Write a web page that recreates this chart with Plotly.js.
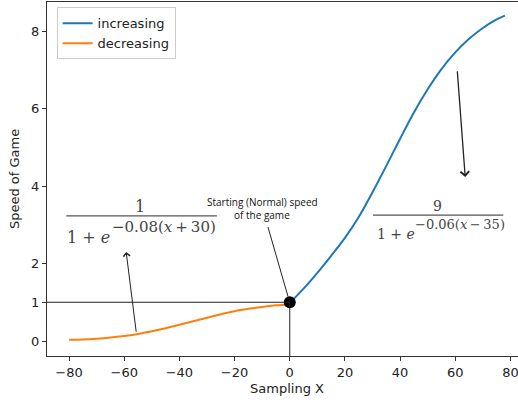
<!DOCTYPE html>
<html><head><meta charset="utf-8">
<script src="https://cdn.plot.ly/plotly-3.0.1.min.js"></script>
<style>html,body{margin:0;padding:0;overflow:hidden;background:#fff;width:518px;height:402px}#chart{width:530px;height:402px}</style>
</head><body><div id="chart"></div>
<script>
// Increasing series (x >= 0)
const incX = [0, 5, 10, 15, 20, 25, 30, 35, 40, 45, 50, 55, 60, 65, 70, 75, 78];
const incY = [0.98, 1.35, 1.76, 2.2, 2.66, 3.2, 3.84, 4.52, 5.22, 5.9, 6.5, 7.02, 7.45, 7.8, 8.08, 8.3, 8.4];
// Decreasing series (x <= 0)
const decX = [-80, -75, -70, -65, -60, -55, -50, -45, -40, -35, -30, -25, -20, -15, -10, -5, 0];
const decY = [0.03, 0.04, 0.06, 0.09, 0.13, 0.18, 0.25, 0.33, 0.42, 0.51, 0.60, 0.69, 0.77, 0.83, 0.88, 0.92, 0.95];
// Starting point
const startX = [0];
const startY = [1];
const xTicks = [-80, -60, -40, -20, 0, 20, 40, 60, 80];
const yTicks = [0, 1, 2, 4, 6, 8];

const traces = [
  {x: incX, y: incY, mode: 'lines', name: 'increasing', line: {color: '#1f77b4', width: 2, shape: 'spline', smoothing: 1}},
  {x: decX, y: decY, mode: 'lines', name: 'decreasing', line: {color: '#ff7f0e', width: 2, shape: 'spline', smoothing: 1}},
  {x: startX, y: startY, mode: 'markers', showlegend: false, marker: {color: '#000', size: 12}}
];

const serifL = {family: 'DejaVu Serif, serif', size: 16, color: '#444'};
const serifLs = {family: 'DejaVu Serif, serif', size: 15, color: '#444'};
const serifR = {family: 'DejaVu Serif, serif', size: 14, color: '#444'};
const serifRs = {family: 'DejaVu Serif, serif', size: 13, color: '#444'};
const small = {family: 'Open Sans, sans-serif', size: 10, color: '#111'};
const layout = {
  width: 530, height: 402,
  margin: {l: 47, r: 3, t: 2, b: 46},
  paper_bgcolor: '#fff', plot_bgcolor: '#fff',
  font: {family: 'DejaVu Sans, sans-serif', size: 13, color: '#222'},
  xaxis: {range: [-88, 86], tickvals: xTicks, ticktext: xTicks.map(v => v < 0 ? '\u2212' + (-v) : String(v)),
    showgrid: false, zeroline: false, showline: true, mirror: true, linecolor: '#333', linewidth: 1.2,
    ticks: 'outside', ticklen: 4, tickcolor: '#333',
    title: {text: 'Sampling X', font: {size: 13}, standoff: 5}},
  yaxis: {range: [-0.387, 8.75], tickvals: yTicks,
    showgrid: false, zeroline: false, showline: true, mirror: true, linecolor: '#333', linewidth: 1.2,
    ticks: 'outside', ticklen: 4, tickcolor: '#333',
    title: {text: 'Speed of Game', font: {size: 13}, standoff: 8}},
  legend: {x: 0.02, y: 0.985, xanchor: 'left', yanchor: 'top', bgcolor: 'rgba(255,255,255,0.8)',
    bordercolor: '#ccc', borderwidth: 1, font: {size: 13}},
  shapes: [
    {type: 'line', xref: 'x', x0: -88, x1: 0, yref: 'y', y0: 1, y1: 1, line: {color: '#222', width: 1}},
    {type: 'line', xref: 'x', x0: 0, x1: 0, yref: 'y', y0: -0.387, y1: 1, line: {color: '#222', width: 1}},
    {type: 'line', x0: -81.0, x1: -26.4, y0: 3.23, y1: 3.23, line: {color: '#555', width: 1.2}},
    {type: 'line', x0: 30.2, x1: 77.4, y0: 3.25, y1: 3.25, line: {color: '#555', width: 1.2}},
    {type: 'line', x0: -7.9, x1: -0.6, y0: 2.94, y1: 1.14, line: {color: '#222', width: 1}}
  ],
  annotations: [
    {x: -54.3, y: 3.48, text: '1', showarrow: false, font: serifL},
    {x: -81.4, y: 2.68, xanchor: 'left', text: '1 + <i>e</i>', showarrow: false, font: serifL},
    {x: -65.2, y: 2.95, xanchor: 'left', text: '\u22120.08(<i>x</i>\u2009+\u200930)', showarrow: false, font: serifLs},
    {x: 53.5, y: 3.48, text: '9', showarrow: false, font: serifR},
    {x: 30.8, y: 2.75, xanchor: 'left', text: '1 + <i>e</i>', showarrow: false, font: serifR},
    {x: 44.6, y: 3.0, xanchor: 'left', text: '\u22120.06(<i>x</i>\u2009\u2212\u200935)', showarrow: false, font: serifRs},
    {x: -10.0, y: 3.6, text: 'Starting (Normal) speed', showarrow: false, font: small},
    {x: -10.0, y: 3.25, text: 'of the game', showarrow: false, font: small},
    {x: -59.3, y: 2.3, ax: -55.6, ay: 0.2, axref: 'x', ayref: 'y', xref: 'x', yref: 'y', text: '', showarrow: true,
      arrowhead: 4, arrowsize: 1.3, arrowwidth: 1, arrowcolor: '#222'},
    {x: 63.6, y: 4.23, ax: 60.7, ay: 7.0, axref: 'x', ayref: 'y', xref: 'x', yref: 'y', text: '', showarrow: true,
      arrowhead: 4, arrowsize: 1.3, arrowwidth: 1.3, arrowcolor: '#222'}
  ]
};
Plotly.newPlot('chart', traces, layout, {displayModeBar: false, staticPlot: true});
</script></body></html>
